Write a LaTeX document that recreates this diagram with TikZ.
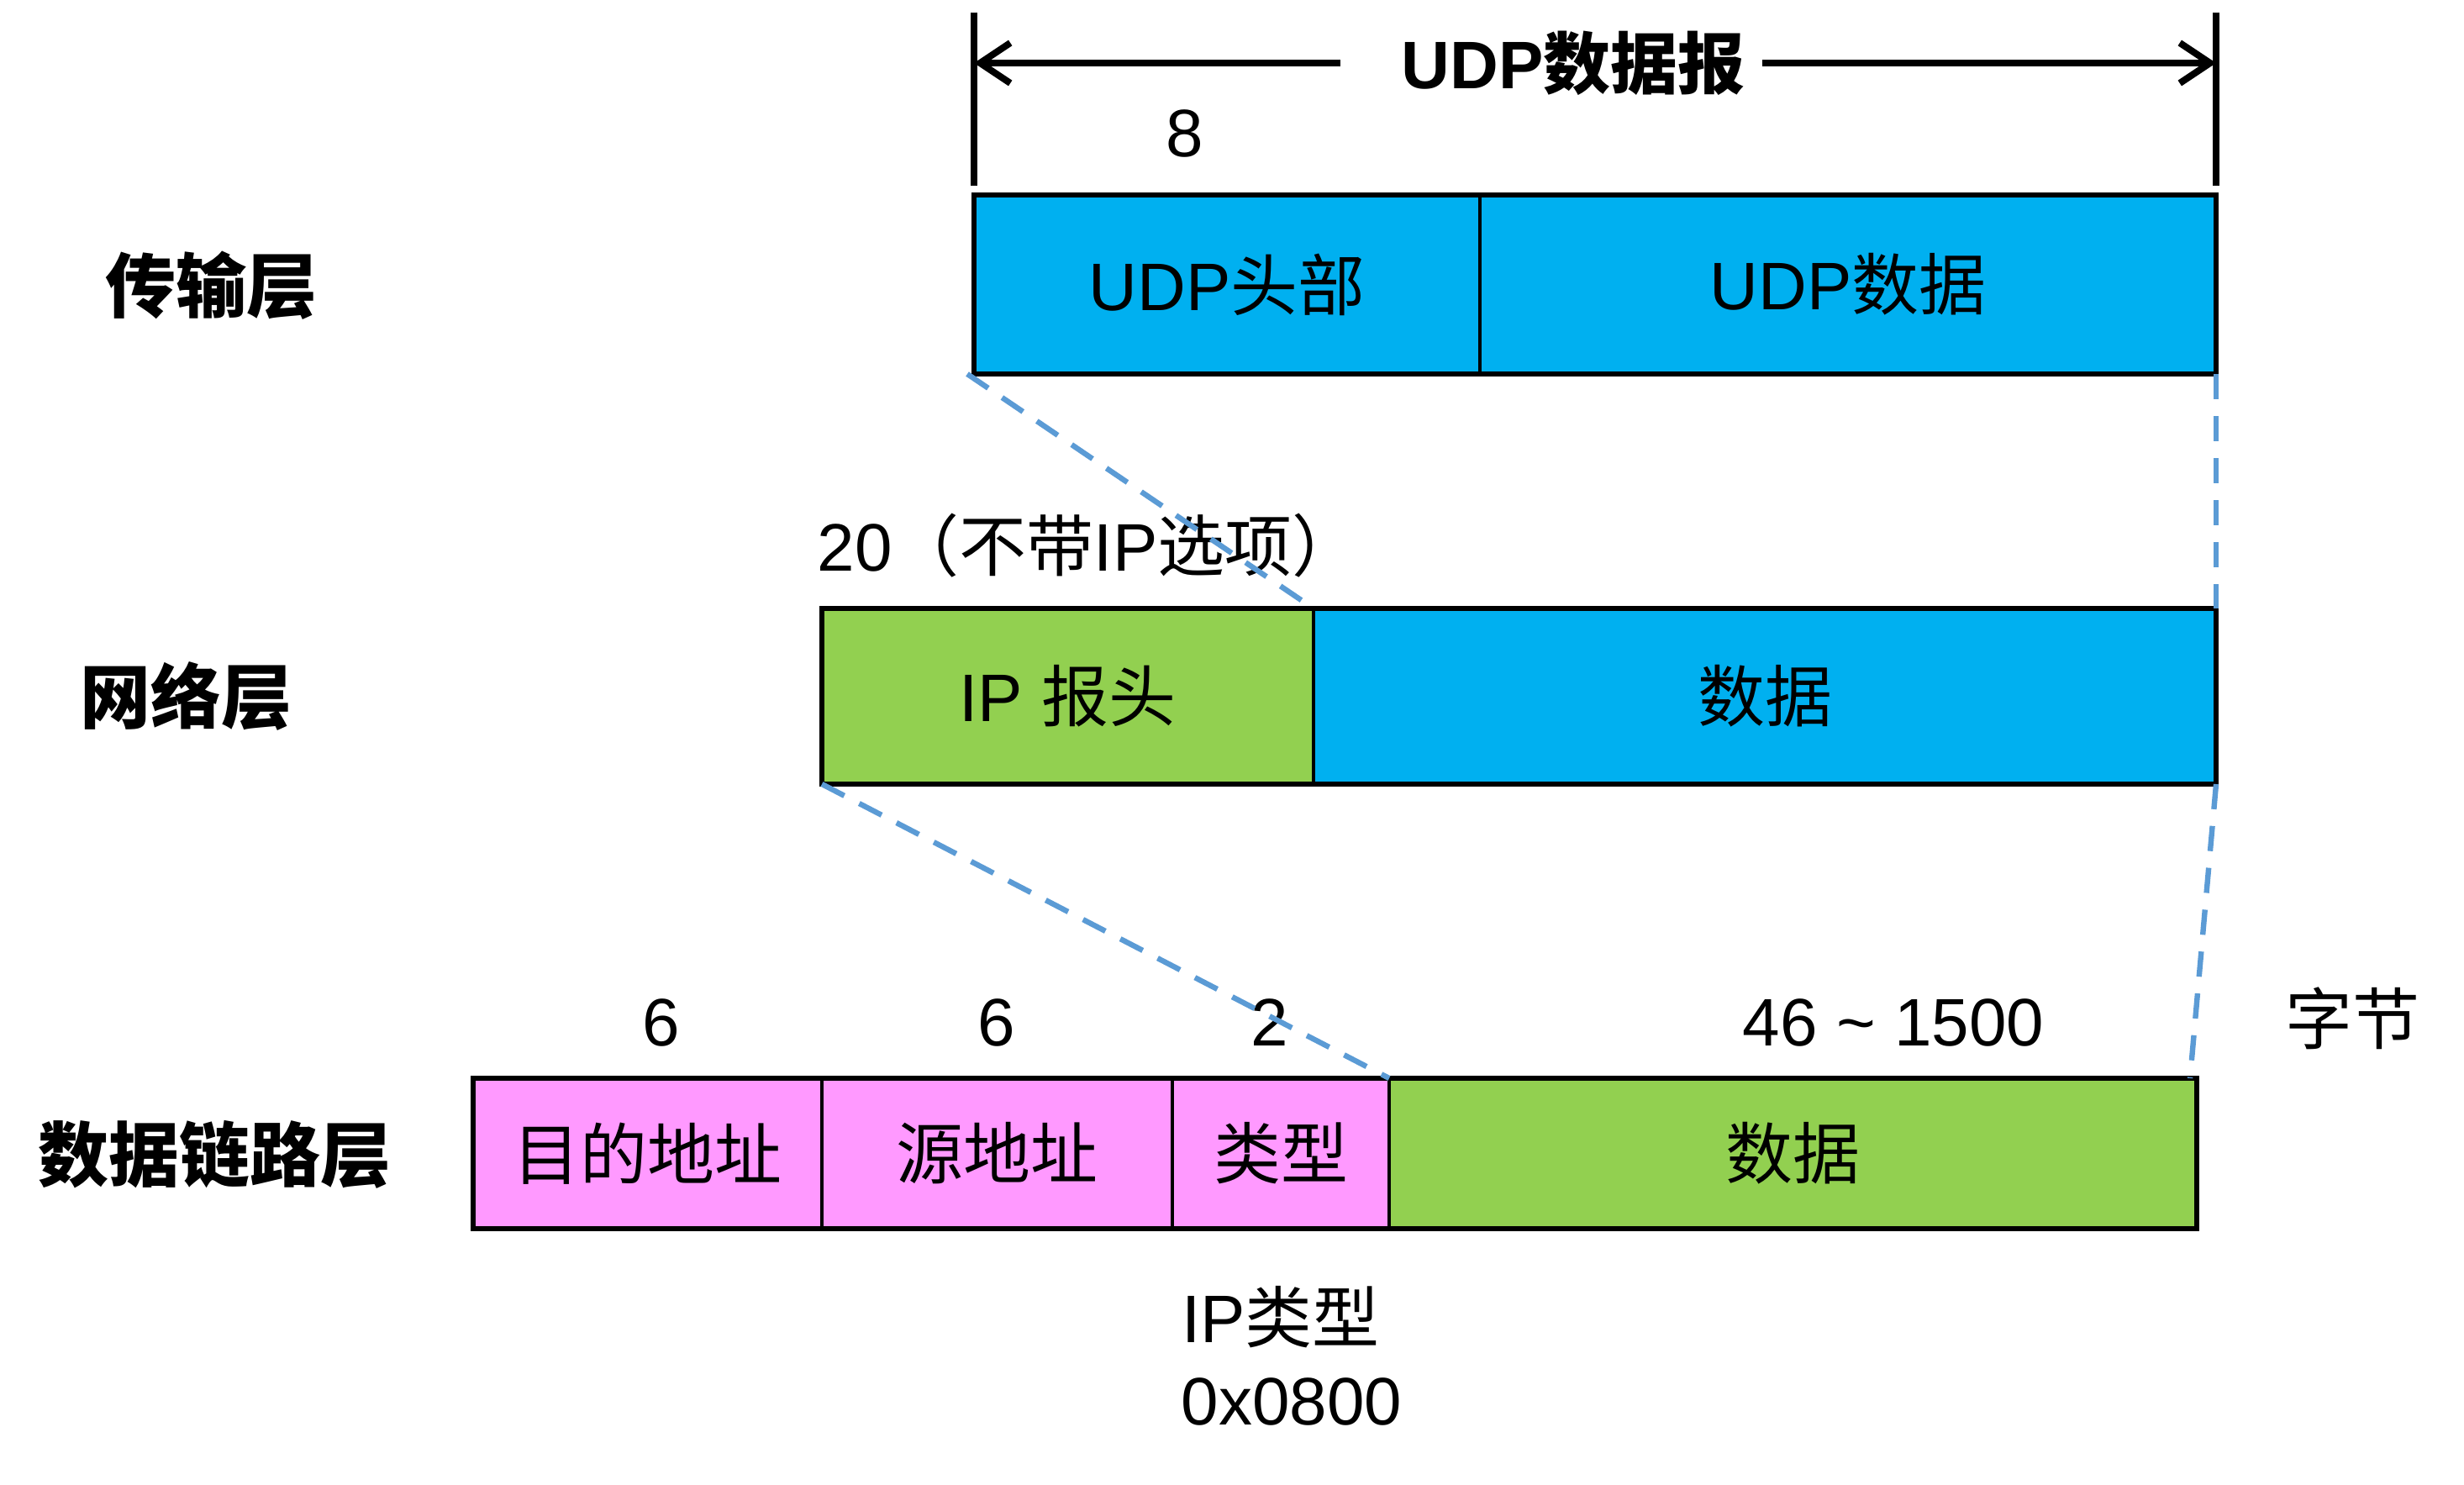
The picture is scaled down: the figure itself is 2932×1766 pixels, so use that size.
\documentclass[tikz,border=0pt]{standalone}
\usepackage{fontspec}
\setmainfont{Liberation Sans}
\newfontfamily\cjk{Noto Sans CJK SC}
\usetikzlibrary{fit,arrows.meta}
\definecolor{udpblue}{HTML}{00B0F0}
\definecolor{ipgreen}{HTML}{92D050}
\definecolor{macpink}{HTML}{FF99FF}
\definecolor{dashblue}{HTML}{5B9BD5}
\begin{document}
\begin{tikzpicture}[x=0.25pt,y=-0.25pt,
  cell/.style={draw=black, line width=0.8pt, inner sep=0pt, outer sep=0pt},
  frame/.style={draw=black, line width=1.3pt},
  txt/.style={font=\fontsize{20}{24}\selectfont, inner sep=0pt},
  layer/.style={font=\fontsize{21}{25}\selectfont\cjk\bfseries, inner sep=0pt},
  guide/.style={draw=dashblue, line width=1.6pt, dash pattern=on 7.5pt off 5pt},
  bar/.style={line width=2pt},
  dimarrow/.style={line width=2.2pt, -{Straight Barb[length=9pt,width=12pt,line width=2pt]}}]
\useasboundingbox[fill=white] (0,0) rectangle (2932,1766);

% title with dimension arrows
\node[txt, font=\fontsize{20}{24}\selectfont\bfseries] (title) at (1872,75) {UDP{\cjk 数据报}};
\coordinate (barLtop) at (1159,15);
\coordinate (barLbot) at (1159,221);
\coordinate (barRtop) at (2637,15);
\coordinate (barRbot) at (2637,221);
\coordinate (barLmid) at (1159,75);
\coordinate (barRmid) at (2637,75);
\draw[bar] (barLtop) -- (barLbot);
\draw[bar] (barRtop) -- (barRbot);
\draw[dimarrow] ([xshift=-18pt]title.west) -- (barLmid);
\draw[dimarrow] ([xshift=5pt]title.east) -- (barRmid);

% layer labels
\node[layer] (lt) at (251,340) {传输层};
\node[layer] (ln) at (221,828) {网络层};
\node[layer] (ll) at (256,1374) {数据链路层};

% transport layer
\node[cell, fill=udpblue, fit={(1159,232) (1761,445)}, label={[txt]center:UDP{\cjk 头部}}] (udph) {};
\node[cell, fill=udpblue, fit={(1761,232) (2637,445)}, label={[txt]center:UDP{\cjk 数据}}] (udpd) {};
\draw[frame] (udph.north west) rectangle (udpd.south east);

% network layer
\node[cell, fill=ipgreen, fit={(978,724) (1563,933)}, label={[txt]center:IP {\cjk 报头}}] (iph) {};
\node[cell, fill=udpblue, fit={(1563,724) (2637,933)}, label={[txt]center:{\cjk 数据}}] (ipd) {};
\draw[frame] (iph.north west) rectangle (ipd.south east);

% data link layer
\node[cell, fill=macpink, fit={(563,1283) (978,1462)}, label={[txt]center:{\cjk 目的地址}}] (dst) {};
\node[cell, fill=macpink, fit={(978,1283) (1395,1462)}, label={[txt]center:{\cjk 源地址}}] (src) {};
\node[cell, fill=macpink, fit={(1395,1283) (1653,1462)}, label={[txt]center:{\cjk 类型}}] (typ) {};
\node[cell, fill=ipgreen, fit={(1653,1283) (2614,1462)}, label={[txt]center:{\cjk 数据}}] (ethd) {};
\draw[frame] (dst.north west) rectangle (ethd.south east);

% size labels
\node[txt] (n8) at (1410,159) {8};
\node[txt, anchor=west] (n20) at (972,649) {20{\cjk （不带}IP{\cjk 选项）}};
\node[txt] (n6a) at (787,1217) {6};
\node[txt] (n6b) at (1186,1217) {6};
\node[txt] (n2) at (1511,1217) {2};
\node[txt] (n46) at (2253,1217) {46 \textasciitilde\ 1500};
\node[txt] (unit) at (2799,1212) {\cjk 字节};
\node[txt] (iptype) at (1524,1567) {IP{\cjk 类型}};
\node[txt] (iphex) at (1537,1668) {0x0800};

% guide lines
\draw[guide] ([xshift=-2pt]udph.south west) -- (iph.north east);
\draw[guide] (udpd.south east) -- (ipd.north east);
\draw[guide] (iph.south west) -- (typ.north east);
\draw[guide] (ipd.south east) -- ([xshift=-2pt]ethd.north east);
\end{tikzpicture}
\end{document}
